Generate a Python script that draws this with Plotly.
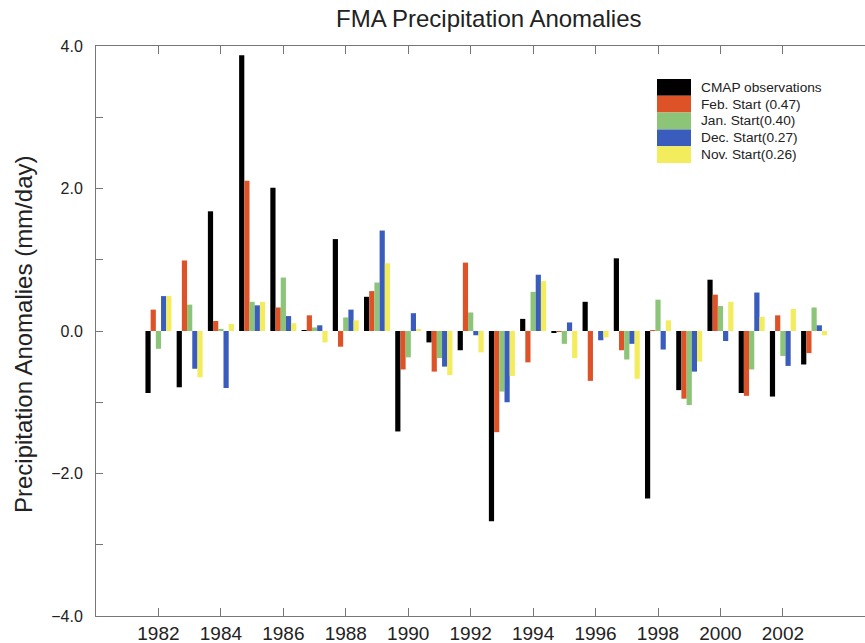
import plotly.graph_objects as go

# ---- data ----
years = [1982, 1983, 1984, 1985, 1986, 1987, 1988, 1989, 1990, 1991, 1992,
         1993, 1994, 1995, 1996, 1997, 1998, 1999, 2000, 2001, 2002, 2003]
cmap_obs = [-0.87, -0.79, 1.68, 3.87, 2.01, 0.01, 1.29, 0.48, -1.41, -0.16, -0.27,
            -2.67, 0.17, -0.02, 0.41, 1.02, -2.35, -0.83, 0.72, -0.87, -0.92, -0.47]
feb_start = [0.30, 0.99, 0.14, 2.11, 0.33, 0.22, -0.22, 0.56, -0.54, -0.57, 0.96,
             -1.42, -0.44, -0.01, -0.70, -0.27, 0.01, -0.95, 0.51, -0.91, 0.22, -0.31]
jan_start = [-0.25, 0.37, 0.03, 0.41, 0.75, 0.05, 0.19, 0.68, -0.37, -0.38, 0.26,
             -0.85, 0.55, -0.18, 0.00, -0.40, 0.44, -1.04, 0.35, -0.54, -0.35, 0.33]
dec_start = [0.49, -0.53, -0.80, 0.36, 0.21, 0.08, 0.30, 1.41, 0.25, -0.50, -0.06,
             -1.00, 0.79, 0.12, -0.13, -0.18, -0.26, -0.57, -0.14, 0.54, -0.49, 0.08]
nov_start = [0.49, -0.65, 0.10, 0.41, 0.11, -0.16, 0.15, 0.95, 0.02, -0.62, -0.30,
             -0.63, 0.70, -0.38, -0.09, -0.67, 0.15, -0.43, 0.41, 0.20, 0.31, -0.06]

series_names = ["CMAP observations", "Feb. Start (0.47)", "Jan. Start(0.40)",
                "Dec. Start(0.27)", "Nov. Start(0.26)"]
series_values = [cmap_obs, feb_start, jan_start, dec_start, nov_start]
series_colors = ["#000000", "#de5228", "#8cc478", "#3a5cbd", "#f3ec5c"]

x_tickvals = [1982, 1984, 1986, 1988, 1990, 1992, 1994, 1996, 1998, 2000, 2002]
y_tickvals = [-4, -3, -2, -1, 0, 1, 2, 3, 4]
y_ticktext = ["\u22124.0", "", "\u22122.0", "", "0.0", "", "2.0", "", "4.0"]

FONT = "Liberation Sans, Arial, Helvetica, sans-serif"
TXT = "#222222"
AX = "#777777"

W, H = 865, 643
L, R, T, B = 96, 0, 46, 27
pw, ph = W - L - R, H - T - B


def px(xp):  # window pixel x -> paper
    return (xp - L) / pw


def py(yp):  # window pixel y -> paper
    return (H - B - yp) / ph


fig = go.Figure()
for name, vals, col in zip(series_names, series_values, series_colors):
    fig.add_trace(go.Bar(x=years, y=vals, name=name, marker_color=col,
                         marker_line_width=0, showlegend=False))

fig.update_layout(
    width=W, height=H,
    margin=dict(l=L, r=R, t=T, b=B, autoexpand=False),
    paper_bgcolor="white", plot_bgcolor="white",
    barmode="group", bargap=0.167, bargroupgap=0,
    font=dict(family=FONT, color=TXT),
)
fig.update_xaxes(
    range=[1980, 2004.63], tickvals=x_tickvals, ticktext=[str(v) for v in x_tickvals],
    ticks="inside", ticklen=8, tickcolor=AX, tickwidth=1,
    showline=True, linecolor=AX, linewidth=1, mirror="ticks",
    showgrid=False, zeroline=False,
    tickfont=dict(size=19, color=TXT, family=FONT), ticklabelstandoff=0,
)
fig.update_yaxes(
    range=[-4, 4], tickvals=y_tickvals, ticktext=y_ticktext,
    ticks="inside", ticklen=7, tickcolor=AX, tickwidth=1,
    showline=True, linecolor=AX, linewidth=1, mirror=False,
    showgrid=False, zeroline=False,
    tickfont=dict(size=16, color=TXT, family=FONT), ticklabelstandoff=9,
)

# title and axis title
fig.add_annotation(text="FMA Precipitation Anomalies", xref="paper", yref="paper",
                   x=px(488), y=py(18), xanchor="center", yanchor="middle",
                   showarrow=False, font=dict(size=24, color=TXT, family=FONT))
fig.add_annotation(text="Precipitation Anomalies (mm/day)", xref="paper", yref="paper",
                   x=px(23), y=py(335), xanchor="center", yanchor="middle",
                   textangle=-90, showarrow=False,
                   font=dict(size=24, color=TXT, family=FONT))

# legend with large colour blocks
row_h = 16.8
top0 = 79
for i, (name, col) in enumerate(zip(series_names, series_colors)):
    y0 = top0 + i * row_h
    y1 = y0 + row_h
    fig.add_shape(type="rect", xref="paper", yref="paper",
                  x0=px(657), x1=px(691), y0=py(y1), y1=py(y0),
                  fillcolor=col, line=dict(width=0))
    fig.add_annotation(text=name, xref="paper", yref="paper",
                       x=px(699), y=py((y0 + y1) / 2), xanchor="left", yanchor="middle",
                       showarrow=False, font=dict(size=13.7, color=TXT, family=FONT))

fig.write_html(
    "out.html",
    config={"displayModeBar": False},
    post_script="document.body.style.margin='0';document.body.style.overflow='hidden';",
)
